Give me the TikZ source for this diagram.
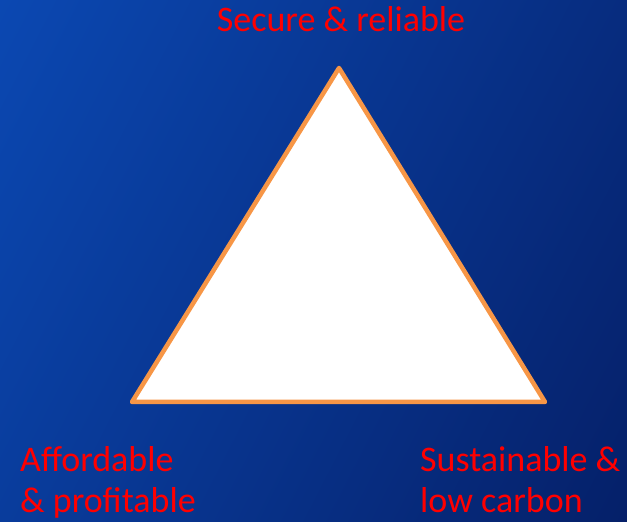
\documentclass[tikz,border=0pt]{standalone}
\usepackage{fontspec}
\setmainfont{Carlito}
\usetikzlibrary{shadings}
\definecolor{bgA}{RGB}{11,72,178}
\definecolor{bgB}{RGB}{5,32,105}
\definecolor{tri}{RGB}{247,150,70}
\definecolor{lab}{RGB}{255,0,0}
\begin{document}
\begin{tikzpicture}[x=1pt,y=1pt,
  lbl/.style={text=lab,font=\fontsize{36}{41}\selectfont,inner sep=0pt,align=left}]
\useasboundingbox (0,0) rectangle (627,522);
\shade[upper left=bgA,lower right=bgB,upper right=bgB!70!bgA,lower left=bgA!70!bgB] (0,0) rectangle (627,522);
\coordinate (top) at (339,454);
\coordinate (bl) at (132,120);
\coordinate (br) at (545,120);
\draw[tri,fill=white,line width=4.5pt,line join=round] (top) -- (bl) -- (br) -- cycle;
\node[lbl,anchor=base] (s) at (341,490) {Secure \& reliable};
\node[lbl,anchor=base west] (a) at (20,9) {Affordable\\\& profitable};
\node[lbl,anchor=base west] (c) at (420,9) {Sustainable \&\\low carbon};
\end{tikzpicture}
\end{document}
